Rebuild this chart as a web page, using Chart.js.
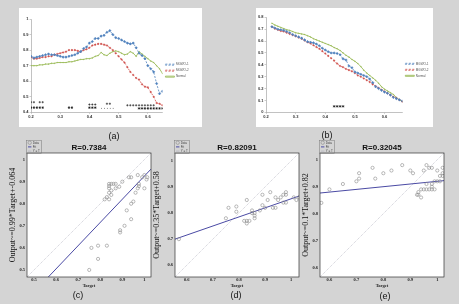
<!DOCTYPE html>
<html lang="en">
<head>
<meta charset="UTF-8"/>
<title>Threshold curves and regression plots</title>
<script src="https://cdn.jsdelivr.net/npm/chart.js@4.4.1/dist/chart.umd.min.js"></script>
<style>
    body { margin: 0; background: #d4d4d4; }
    #page { position: relative; width: 459px; height: 304px; overflow: hidden; background: #d4d4d4; }
    canvas { position: absolute; }
    .sheet { position: absolute; background: #fff; }
    .cap { position: absolute; font: 9px "Liberation Sans", Arial, sans-serif; color: #111; transform: translate(-50%, -50%); }
</style>
</head>
<body>
<div id="page">
    <div class="sheet" style="left:19px;top:8px;width:183px;height:119px"></div>
    <div class="sheet" style="left:256px;top:8px;width:177px;height:119px"></div>
    <canvas id="chartA" width="183" height="119" style="left:19px;top:8px"></canvas>
    <canvas id="chartB" width="183" height="119" style="left:256px;top:8px"></canvas>
    <canvas id="chartC" width="156" height="164" style="left:0;top:140px"></canvas>
    <canvas id="chartD" width="156" height="164" style="left:148px;top:140px"></canvas>
    <canvas id="chartE" width="156" height="164" style="left:293px;top:140px"></canvas>
    <div class="cap" style="left:114px;top:136px">(a)</div>
    <div class="cap" style="left:327px;top:135px">(b)</div>
    <div class="cap" style="left:78px;top:295px">(c)</div>
    <div class="cap" style="left:236px;top:295px">(d)</div>
    <div class="cap" style="left:385px;top:296px">(e)</div>
</div>

<script>
    // ---------- panel (a) ----------
    const xA = [0.20, 0.21, 0.22, 0.23, 0.24, 0.25, 0.26, 0.27, 0.28, 0.29,
        0.30, 0.31, 0.32, 0.33, 0.34, 0.35, 0.36, 0.37, 0.38, 0.39,
        0.40, 0.41, 0.42, 0.43, 0.44, 0.45, 0.46, 0.47, 0.48, 0.49,
        0.50, 0.51, 0.52, 0.53, 0.54, 0.55, 0.56, 0.57, 0.58, 0.59,
        0.60, 0.61, 0.62, 0.63, 0.64, 0.65];
    const mgwo1A = [0.76, 0.75, 0.755, 0.76, 0.765, 0.77, 0.775, 0.77, 0.77, 0.765,
        0.76, 0.755, 0.755, 0.76, 0.765, 0.77, 0.78, 0.79, 0.81, 0.82,
        0.845, 0.855, 0.875, 0.875, 0.89, 0.895, 0.915, 0.925, 0.90, 0.88,
        0.875, 0.865, 0.855, 0.845, 0.84, 0.845, 0.815, 0.78, 0.765, 0.745,
        0.70, 0.68, 0.66, 0.585, 0.52, 0.535];
    const mgwo2A = [0.755, 0.745, 0.745, 0.75, 0.755, 0.755, 0.76, 0.76, 0.77, 0.775,
        0.78, 0.785, 0.79, 0.80, 0.80, 0.80, 0.795, 0.79, 0.80, 0.805,
        0.815, 0.83, 0.835, 0.84, 0.84, 0.835, 0.83, 0.815, 0.80, 0.78,
        0.76, 0.74, 0.72, 0.69, 0.66, 0.64, 0.62, 0.61, 0.58, 0.565,
        0.56, 0.53, 0.50, 0.46, 0.455, 0.445];
    const normalA = [0.70, 0.70, 0.70, 0.705, 0.705, 0.71, 0.71, 0.715, 0.715, 0.72,
        0.72, 0.72, 0.72, 0.725, 0.725, 0.73, 0.735, 0.74, 0.74, 0.745,
        0.745, 0.75, 0.76, 0.765, 0.785, 0.77, 0.765, 0.78, 0.79, 0.795,
        0.79, 0.78, 0.77, 0.775, 0.79, 0.78, 0.76, 0.79, 0.775, 0.76,
        0.745, 0.73, 0.72, 0.70, 0.68, 0.65];
    // significance markers along the bottom
    const plusAX = [0.20, 0.21, 0.23, 0.24, 0.40, 0.41, 0.42, 0.46, 0.47,
        0.53, 0.54, 0.55, 0.56, 0.57, 0.58, 0.59, 0.60, 0.61, 0.62];
    const plusAY = [0.465, 0.465, 0.465, 0.465, 0.45, 0.45, 0.45, 0.455, 0.455,
        0.445, 0.445, 0.445, 0.445, 0.445, 0.445, 0.445, 0.445, 0.445, 0.445];
    const starAX = [0.20, 0.21, 0.22, 0.23, 0.24, 0.33, 0.34, 0.40, 0.41, 0.42,
        0.57, 0.58, 0.59, 0.60, 0.61, 0.62, 0.63, 0.64, 0.65];
    const starAY = [0.43, 0.43, 0.43, 0.43, 0.43, 0.43, 0.43, 0.43, 0.43, 0.43,
        0.425, 0.425, 0.425, 0.425, 0.425, 0.425, 0.425, 0.425, 0.425];
    const dotAX = [0.44, 0.45, 0.46, 0.47, 0.48];
    const dotAY = [0.425, 0.425, 0.425, 0.425, 0.425];

    // ---------- panel (b) ----------
    const xB = [0.22, 0.23, 0.24, 0.25, 0.26, 0.27, 0.28, 0.29, 0.30, 0.31,
        0.32, 0.33, 0.34, 0.35, 0.36, 0.37, 0.38, 0.39, 0.40, 0.41,
        0.42, 0.43, 0.44, 0.45, 0.46, 0.47, 0.48, 0.49, 0.50, 0.51,
        0.52, 0.53, 0.54, 0.55, 0.56, 0.57, 0.58, 0.59, 0.60, 0.61,
        0.62, 0.63, 0.64, 0.65, 0.66];
    const mgwo1B = [0.72, 0.71, 0.70, 0.695, 0.69, 0.68, 0.67, 0.655, 0.645, 0.635,
        0.625, 0.61, 0.595, 0.59, 0.585, 0.575, 0.56, 0.54, 0.525, 0.51,
        0.50, 0.50, 0.495, 0.485, 0.45, 0.44, 0.39, 0.375, 0.34, 0.33,
        0.32, 0.31, 0.30, 0.28, 0.25, 0.215, 0.20, 0.185, 0.17, 0.16,
        0.145, 0.125, 0.115, 0.105, 0.095];
    const mgwo2B = [0.72, 0.705, 0.695, 0.685, 0.68, 0.67, 0.66, 0.65, 0.64, 0.63,
        0.62, 0.605, 0.59, 0.58, 0.565, 0.55, 0.535, 0.515, 0.495, 0.475,
        0.455, 0.435, 0.41, 0.39, 0.38, 0.365, 0.355, 0.345, 0.33, 0.31,
        0.30, 0.285, 0.27, 0.255, 0.235, 0.22, 0.205, 0.19, 0.175, 0.16,
        0.145, 0.13, 0.12, 0.105, 0.09];
    const normalB = [0.75, 0.735, 0.725, 0.715, 0.705, 0.695, 0.69, 0.68, 0.67, 0.665,
        0.66, 0.655, 0.645, 0.635, 0.62, 0.61, 0.60, 0.59, 0.58, 0.57,
        0.56, 0.545, 0.535, 0.52, 0.50, 0.48, 0.465, 0.445, 0.43, 0.41,
        0.385, 0.355, 0.33, 0.31, 0.29, 0.27, 0.245, 0.215, 0.195, 0.18,
        0.165, 0.15, 0.125, 0.105, 0.09];
    const starBX = [0.43, 0.44, 0.45, 0.46];
    const starBY = [0.05, 0.05, 0.05, 0.05];

    // ---------- regression panels (c), (d), (e) ----------
    const targetC = [0.75, 0.76, 0.79, 0.79, 0.83, 0.89, 0.89, 0.91, 0.92, 0.94, 0.94, 0.95, 0.96,
        0.97, 0.975, 0.975, 1.0, 0.97, 0.99, 1.0, 1.013, 0.93, 0.94, 0.90, 0.886, 0.87, 0.87,
        0.84, 0.85, 0.86, 0.84, 0.84, 0.85, 0.84, 0.85, 0.83, 0.84, 0.82, 1.01];
    const outputC = [0.50, 0.60, 0.61, 0.55, 0.61, 0.67, 0.68, 0.70, 0.77, 0.73, 0.80, 0.81, 0.85,
        0.87, 0.88, 0.89, 0.87, 0.93, 0.92, 0.93, 0.92, 0.92, 0.92, 0.90, 0.877, 0.89, 0.87,
        0.89, 0.89, 0.89, 0.88, 0.87, 0.86, 0.85, 0.84, 0.83, 0.82, 0.82, 0.91];
    const fitCX = [0.557, 1.03];
    const fitCY = [0.46, 0.957];

    const targetD = [0.57, 0.75, 0.76, 0.79, 0.79, 0.83, 0.82, 0.83, 0.84, 0.83, 0.85, 0.86,
        0.86, 0.85, 0.86, 0.89, 0.89, 0.90, 0.88, 0.91, 0.92, 0.93, 0.94, 0.94, 0.95, 0.96,
        0.97, 0.97, 0.98, 0.98, 0.98, 1.01, 1.02, 1.03];
    const outputD = [0.70, 0.78, 0.82, 0.825, 0.805, 0.85, 0.77, 0.77, 0.77, 0.76, 0.80, 0.79,
        0.78, 0.81, 0.80, 0.87, 0.83, 0.82, 0.81, 0.85, 0.88, 0.82, 0.82, 0.86, 0.85, 0.86,
        0.84, 0.87, 0.88, 0.87, 0.84, 0.86, 0.85, 0.86];
    const fitDX = [0.555, 1.03];
    const fitDY = [0.70, 0.865];

    const targetE = [0.57, 0.60, 0.65, 0.70, 0.71, 0.71, 0.76, 0.77, 0.80, 0.83, 0.87, 0.90,
        0.91, 0.95, 0.96, 0.97, 0.98, 1.0, 1.02, 1.02, 1.02, 1.01, 1.01, 1.0, 0.99, 0.96, 0.98,
        0.98, 0.94, 0.95, 0.96, 0.97, 0.98, 0.99, 0.93, 0.925, 0.93, 0.94];
    const outputE = [0.84, 0.89, 0.91, 0.92, 0.93, 0.95, 0.97, 0.93, 0.95, 0.96, 0.98, 0.96,
        0.95, 0.96, 0.98, 0.97, 0.97, 0.96, 0.97, 0.95, 0.94, 0.94, 0.92, 0.92, 0.92, 0.91, 0.91,
        0.90, 0.89, 0.89, 0.89, 0.89, 0.89, 0.89, 0.88, 0.87, 0.87, 0.86];
    const fitEX = [0.565, 1.025];
    const fitEY = [0.8765, 0.9225];


    const pts = (xs, ys) => xs.map((x, i) => ({x: x, y: ys[i]}));
    const tickFmt = v => String(Math.round(v * 100) / 100);

    Chart.defaults.font.family = '"Liberation Sans", Arial, sans-serif';
    Chart.defaults.animation = false;
    Chart.defaults.events = [];

    // white plot background, black frame and a frame round the legend
    const frame = {
        id: 'frame',
        beforeDraw(chart, args, opts) {
            if (!opts.on) return;
            const a = chart.chartArea, ctx = chart.ctx;
            ctx.save();
            ctx.fillStyle = '#fff';
            ctx.fillRect(a.left, a.top, a.right - a.left, a.bottom - a.top);
            ctx.restore();
        },
        afterDraw(chart, args, opts) {
            if (!opts.on) return;
            const a = chart.chartArea, ctx = chart.ctx;
            ctx.save();
            ctx.strokeStyle = '#333';
            ctx.lineWidth = 0.7;
            ctx.strokeRect(a.left, a.top, a.right - a.left, a.bottom - a.top);
            const hb = chart.legend.legendHitBoxes;
            if (hb && hb.length) {
                const l = Math.min(...hb.map(h => h.left)) - 1.5;
                const t = Math.min(...hb.map(h => h.top)) - 1;
                const r = Math.max(...hb.map(h => h.left + h.width)) + 1.5;
                const b = Math.max(...hb.map(h => h.top + h.height)) + 1;
                ctx.lineWidth = 0.5;
                ctx.strokeStyle = '#777';
                ctx.strokeRect(l, t, r - l, b - t);
            }
            ctx.restore();
        }
    };
    Chart.register(frame);

    function excelChart(id, xs, s1, s2, s3, marks, xMax, yMin, yMax, pad) {
        const datasets = [
            {
                label: 'MGWO-1', data: pts(xs, s1), borderColor: '#4f81bd', backgroundColor: 'rgba(0,0,0,0)',
                borderWidth: 0.8, borderDash: [2, 1.5], pointStyle: 'rectRot', pointRadius: 1.3,
                pointBackgroundColor: '#4f81bd', pointBorderWidth: 0.4
            },
            {
                label: 'MGWO-2', data: pts(xs, s2), borderColor: '#d0504d', backgroundColor: 'rgba(0,0,0,0)',
                borderWidth: 0.8, borderDash: [2, 1.5], pointStyle: 'circle', pointRadius: 0.8,
                pointBackgroundColor: '#d0504d', pointBorderWidth: 0.4
            },
            {
                label: 'Normal', data: pts(xs, s3), borderColor: '#9bbb59', backgroundColor: 'rgba(0,0,0,0)',
                borderWidth: 0.9, pointStyle: 'circle', pointRadius: 0.5,
                pointBackgroundColor: '#9bbb59', pointBorderWidth: 0.3
            }
        ];
        marks.forEach(m => datasets.push({
            label: '', data: pts(m.x, m.y), showLine: false, pointStyle: m.style, pointRadius: m.r,
            borderColor: '#111', backgroundColor: '#111', pointBorderWidth: 0.6
        }));

        const axisFont = {size: 4, weight: 'bold'};
        return new Chart(document.getElementById(id), {
            type: 'line',
            data: {datasets: datasets},
            options: {
                responsive: false,
                layout: {padding: pad},
                scales: {
                    x: {
                        type: 'linear', min: 0.2, max: xMax,
                        ticks: {stepSize: 0.1, includeBounds: false, font: axisFont, color: '#333', padding: 1, callback: tickFmt},
                        grid: {drawOnChartArea: false, tickLength: 1.5, color: '#999', lineWidth: 0.5},
                        border: {color: '#999', width: 0.6},
                        afterFit: s => { s.height = 10; }
                    },
                    y: {
                        min: yMin, max: yMax,
                        ticks: {stepSize: 0.1, includeBounds: false, font: axisFont, color: '#333', padding: 1, callback: tickFmt},
                        grid: {drawOnChartArea: false, tickLength: 1.5, color: '#999', lineWidth: 0.5},
                        border: {color: '#999', width: 0.6},
                        afterFit: s => { s.width = pad.axisW; }
                    }
                },
                plugins: {
                    frame: {on: false},
                    legend: {
                        position: 'right',
                        labels: {
                            boxWidth: 9, boxHeight: 1, padding: 3, color: '#555', font: {size: 3},
                            filter: item => item.datasetIndex < 3
                        }
                    },
                    tooltip: {enabled: false}
                }
            }
        });
    }

    function regressionChart(id, t, o, fx, fy, lo, hi, title, yLabel, yPad) {
        const serif = '"Liberation Serif", "Times New Roman", serif';
        const tickFont = {family: serif, size: 4.5, weight: 'bold'};
        return new Chart(document.getElementById(id), {
            type: 'scatter',
            data: {
                datasets: [
                    {
                        label: 'Data', data: pts(t, o), pointStyle: 'circle', pointRadius: 1.6,
                        borderColor: '#8a8a8a', backgroundColor: 'rgba(0,0,0,0)', borderWidth: 0.6
                    },
                    {
                        type: 'line', label: 'Fit', data: pts(fx, fy), borderColor: '#4a4aa4',
                        backgroundColor: '#4a4aa4', borderWidth: 1, pointRadius: 0, pointStyle: 'line'
                    },
                    {
                        type: 'line', label: 'Y = T', data: [{x: lo, y: lo}, {x: hi, y: hi}],
                        borderColor: '#a9a9b8', backgroundColor: '#a9a9b8', borderWidth: 0.6,
                        borderDash: [1, 1], pointRadius: 0, pointStyle: 'line'
                    }
                ]
            },
            options: {
                responsive: false,
                layout: {padding: {left: 0, right: 5, top: 0, bottom: 15.3}},
                scales: {
                    x: {
                        type: 'linear', min: lo, max: hi,
                        ticks: {stepSize: 0.1, includeBounds: false, font: tickFont, color: '#222', padding: 0.5, callback: tickFmt},
                        grid: {display: false, drawTicks: false},
                        border: {display: false},
                        title: {display: true, text: 'Target', font: {family: serif, size: 4.5, weight: 'bold'}, color: '#222', padding: 0},
                        afterFit: s => { s.height = 11.7; }
                    },
                    y: {
                        min: lo, max: hi,
                        ticks: {stepSize: 0.1, includeBounds: false, font: tickFont, color: '#222', padding: 2, callback: tickFmt},
                        grid: {display: false, drawTicks: false},
                        border: {display: false},
                        title: {display: true, text: yLabel, font: {family: serif, size: 8}, color: '#111', padding: {top: yPad, bottom: 0}},
                        afterFit: s => { s.width = 27; }
                    }
                },
                plugins: {
                    frame: {on: true},
                    title: {
                        display: true, text: title, fullSize: false, color: '#111',
                        font: {size: 8, weight: 'bold'}, padding: {top: 2.6, bottom: 0.8}
                    },
                    legend: {
                        position: 'chartArea', align: 'start',
                        labels: {usePointStyle: true, boxHeight: 2.4, padding: 1.2, color: '#444', font: {size: 3}}
                    },
                    tooltip: {enabled: false}
                }
            }
        });
    }

    excelChart('chartA', xA, mgwo1A, mgwo2A, normalA, [
        {x: plusAX, y: plusAY, style: 'cross', r: 1.1},
        {x: starAX, y: starAY, style: 'star', r: 1.2},
        {x: dotAX, y: dotAY, style: 'dash', r: 0.8}
    ], 0.65, 0.4, 1, {left: 0, top: 11, bottom: 4.7, right: 3.4, axisW: 12});

    excelChart('chartB', xB, mgwo1B, mgwo2B, normalB, [
        {x: starBX, y: starBY, style: 'star', r: 1.2}
    ], 0.66, 0, 0.8, {left: 0, top: 9.3, bottom: 4.7, right: 0.5, axisW: 10});

    regressionChart('chartC', targetC, outputC, fitCX, fitCY, 0.468, 1.03,
        'R=0.7384', 'Output~=0.99*Target+-0.064', 8.2);
    regressionChart('chartD', targetD, outputD, fitDX, fitDY, 0.555, 1.03,
        'R=0.82091', 'Output~=0.35*Target+0.58', 4.5);
    regressionChart('chartE', targetE, outputE, fitEX, fitEY, 0.565, 1.025,
        'R=0.32045', 'Output~=0.1*Target+0.82', 7.7);
</script>
</body>
</html>
